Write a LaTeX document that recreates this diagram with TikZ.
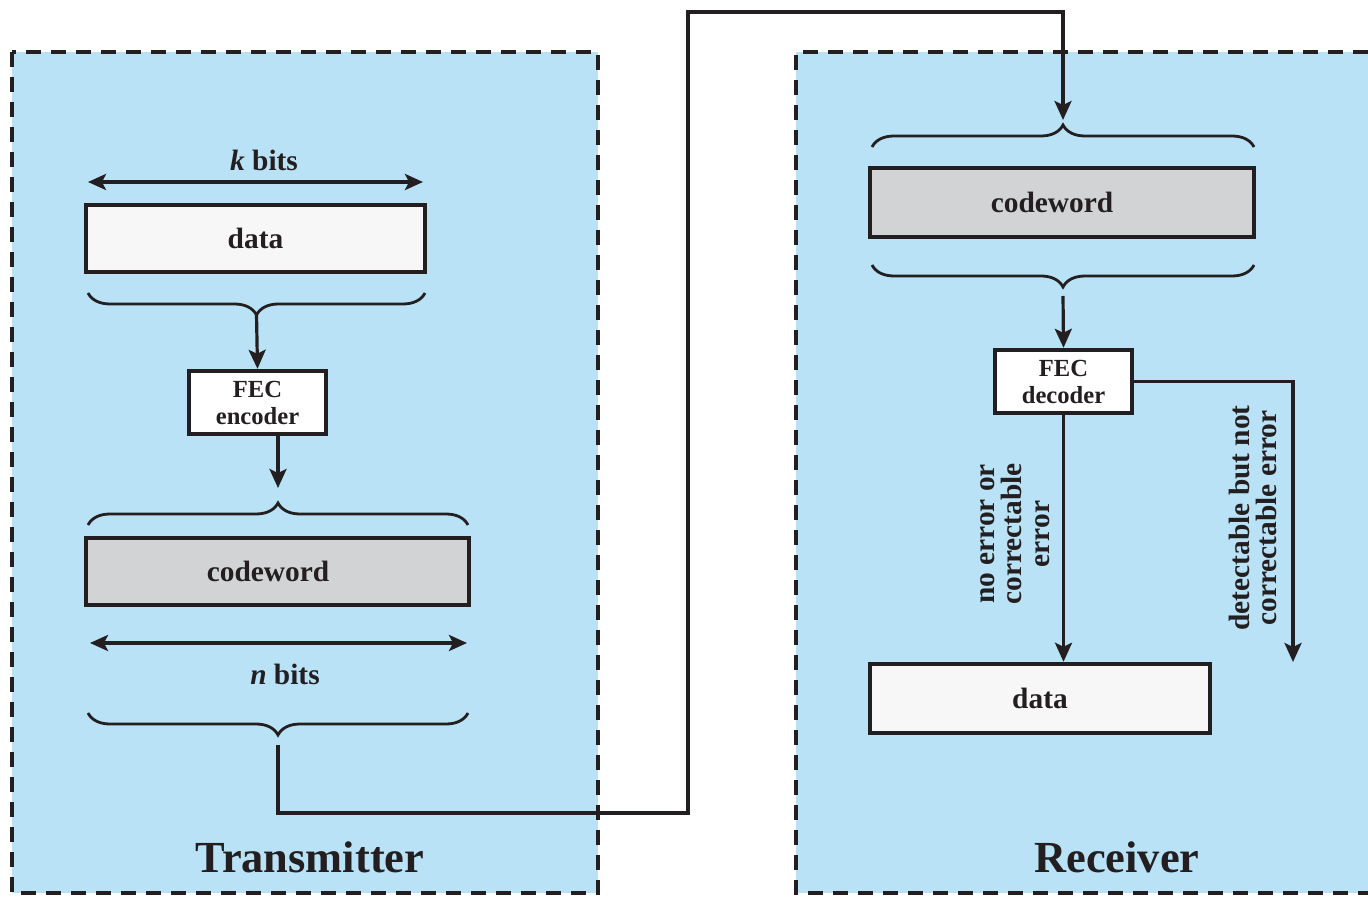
\documentclass[tikz,border=0pt]{standalone}
\usepackage{xcolor}
\usepackage{fontspec}
\setmainfont{Liberation Serif}
\usepackage{tikz}
\usetikzlibrary{arrows.meta,decorations.pathreplacing}
\definecolor{panelblue}{RGB}{185,226,246}
\definecolor{ink}{RGB}{35,31,32}
\definecolor{codegray}{RGB}{209,211,212}
\definecolor{datawhite}{RGB}{247,247,247}

\begin{document}
\begin{tikzpicture}[x=0.5pt,y=-0.5pt,
    every node/.style={align=center,text=ink,font=\bfseries\fontsize{14.7}{13.75}\selectfont},
    box/.style={draw=ink,line width=2.2pt,inner sep=0pt,minimum height=33.5pt},
    fec/.style={box,fill=white,minimum width=68.5pt,minimum height=31.5pt,font=\bfseries\fontsize{12.3}{13.5}\selectfont},
    title/.style={font=\bfseries\fontsize{22.2}{26}\selectfont},
    wire/.style={draw=ink,line width=1.6pt},
    flow/.style={wire,-{Stealth[length=9.5pt,width=8.5pt,inset=2pt]}},
    span/.style={wire,{Stealth[length=9pt,width=8pt,inset=2pt]}-{Stealth[length=9pt,width=8pt,inset=2pt]}},
    curly/.style={draw=ink,line width=1.4pt,decorate,decoration={brace,amplitude=11pt}},
    panel/.style={draw=ink,line width=1.8pt,dash pattern=on 7.5pt off 5pt}]

    \useasboundingbox (0,0) rectangle (1368,897);
    \fill[panelblue] (12,52) rectangle (598,893);
    \fill[panelblue] (796,52) rectangle (1368,893);
    \draw[panel] (12,52) rectangle (598,893);
    \draw[panel] (1368,52) -- (796,52) -- (796,893) -- (1368,893);

    \node[box,fill=datawhite,minimum width=169.5pt] (tdata) at (255.5,238.5) {data};
    \node[fec] (enc) at (257.5,402.5) {FEC\\encoder};
    \node[box,fill=codegray,minimum width=191.5pt] (tcode) at (277.5,571.5) {codeword\hspace{9.5pt}};
    \node[box,fill=codegray,minimum width=192pt,minimum height=34.5pt] (rcode) at (1062,202.5) {codeword\hspace{10pt}};
    \node[fec] (dec) at (1063.5,381.5) {FEC\\decoder};
    \node[box,fill=datawhite,minimum width=170pt,minimum height=34.5pt] (rdata) at (1040,698.5) {data};

    \coordinate (kl) at (88,182);
    \coordinate (kr) at (423,182);
    \draw[span] (kl) -- (kr);
    \node (klabel) at (264,160) {\textit{k} bits};
    \coordinate (nl) at (90,643);
    \coordinate (nr) at (467,643);
    \draw[span] (nl) -- (nr);
    \node (nlabel) at (285,674) {\textit{n} bits};

    \draw[curly] (425,293) -- (88,293);
    \coordinate (tdtip) at (256.5,314);
    \draw[flow] (tdtip) -- (enc.north);
    \draw[curly] (88,525) -- (468,525);
    \coordinate (tcin) at (278,488);
    \draw[flow] (enc.south -| tcin) -- (tcin);
    \draw[curly] (468,713) -- (88,713);

    \coordinate (txout) at (278,745);
    \coordinate (lowturn) at (688,813);
    \coordinate (highturn) at (688,12);
    \coordinate (rcin) at (1063,120);
    \draw[flow] (txout) |- (lowturn) -- (highturn) -| (rcin);

    \draw[curly] (872,147) -- (1254,147);
    \draw[curly] (1254,265) -- (872,265);
    \coordinate (rcout) at (1063,296);
    \draw[flow] (rcout) -- (dec.north);
    \draw[flow] (dec.south) -- (dec.south |- rdata.north);
    \coordinate (rejectend) at (1293,662);
    \draw[flow] (dec.east) -| (rejectend);

    \node[rotate=90] (oklabel) at (1015,534) {no error or\\correctable\\error};
    \node[rotate=90] (faillabel) at (1253,518) {detectable but not\\correctable error};

    \node[title] (txtitle) at (310,857) {Transmitter};
    \node[title] (rxtitle) at (1117,857) {Receiver};
\end{tikzpicture}
\end{document}
